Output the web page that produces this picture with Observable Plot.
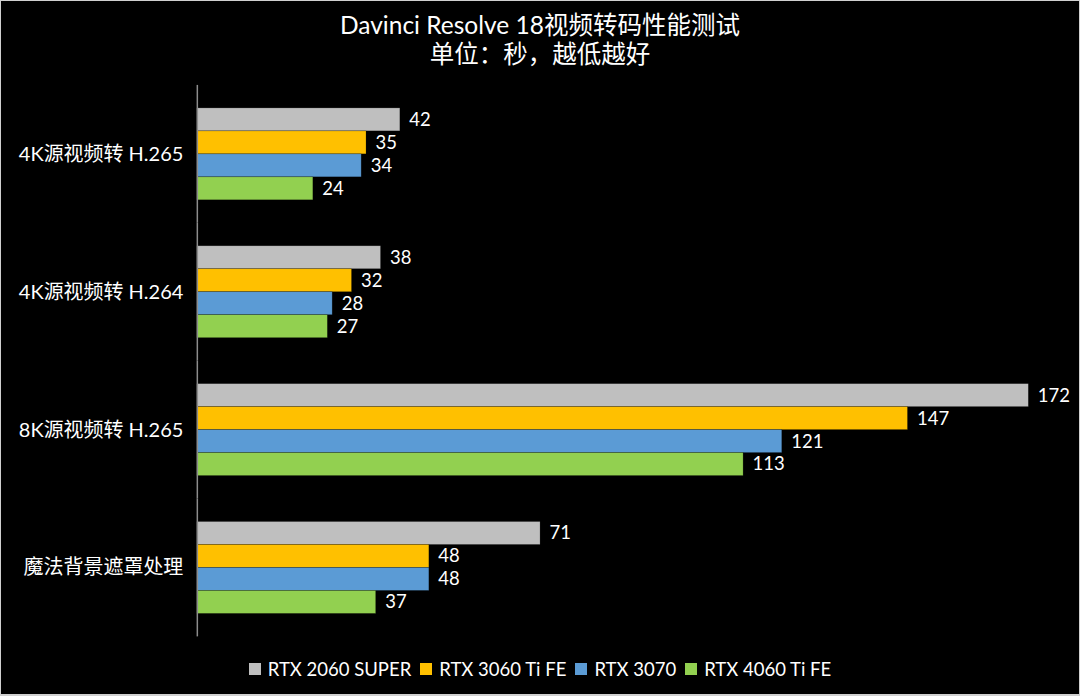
<!DOCTYPE html>
<html>
<head>
<meta charset="utf-8">
<script src="https://cdn.jsdelivr.net/npm/d3@7"></script>
<script src="https://cdn.jsdelivr.net/npm/@observablehq/plot@0.6"></script>
<style>
  html, body { margin: 0; padding: 0; background: #000; }
  #wrap { position: relative; width: 1080px; height: 696px; background: #000; box-sizing: border-box; border: 1px solid #d0d0d0; border-bottom-width: 2px; overflow: hidden; font-family: Lato, "Noto Sans CJK SC", sans-serif; color: #fff; }
  #chart { position: absolute; left: -1px; top: -1px; }
  #title { position: absolute; left: 0; right: 0; top: 9px; text-align: center; font-size: 24.5px; line-height: 29px; color: #fff; }
  #legend { position: absolute; left: 0; right: 0; top: 656px; height: 24px; display: flex; justify-content: center; align-items: center; font-size: 18.5px; color: #fff; }
  .item { display: flex; align-items: center; margin: 0 4.5px; }
  .sw { width: 12px; height: 12px; margin-right: 7px; }
</style>
</head>
<body>
<div id="wrap">
  <div id="chart"></div>
  <div id="title"><div>Davinci Resolve 18视频转码性能测试</div><div>单位：秒，越低越好</div></div>
  <div id="legend"></div>
</div>
<script>
const categories = ["4K源视频转 H.265", "4K源视频转 H.264", "8K源视频转 H.265", "魔法背景遮罩处理"];
const seriesNames = ["RTX 2060 SUPER", "RTX 3060 Ti FE", "RTX 3070", "RTX 4060 Ti FE"];
const rtx2060super = [42, 38, 172, 71];
const rtx3060tife = [35, 32, 147, 48];
const rtx3070 = [34, 28, 121, 48];
const rtx4060tife = [24, 27, 113, 37];
const seriesColors = ["#BFBFBF", "#FFC000", "#5B9BD5", "#92D050"];

const seriesValues = [rtx2060super, rtx3060tife, rtx3070, rtx4060tife];
const data = [];
categories.forEach((c, i) => {
  seriesNames.forEach((s, j) => {
    data.push({category: c, series: s, value: seriesValues[j][i]});
  });
});

const chart = Plot.plot({
  width: 1080,
  height: 696,
  marginTop: 85,
  marginBottom: 59,
  marginLeft: 197,
  marginRight: 12,
  style: {background: "#000", color: "#fff", fontSize: "20px", fontFamily: 'Lato, "Noto Sans CJK SC", sans-serif'},
  x: {domain: [0, 180], axis: null},
  y: {domain: seriesNames, axis: null, paddingInner: 0, paddingOuter: 0.95},
  fy: {domain: categories, padding: 0, axis: "left", label: null, tickSize: 0, tickPadding: 14},
  color: {domain: seriesNames, range: seriesColors},
  marks: [
    Plot.barX(data, {fy: "category", y: "series", x: "value", fill: "series", stroke: "#000", strokeOpacity: 0.35, strokeWidth: 0.6}),
    Plot.text(data, {fy: "category", y: "series", x: "value", text: d => String(d.value), dx: 9, textAnchor: "start", fill: "#fff", fontSize: 18.5}),
    Plot.ruleX([0], {stroke: "#8c8c8c", strokeWidth: 1.5})
  ]
});
document.getElementById("chart").appendChild(chart);

const legend = document.getElementById("legend");
seriesNames.forEach((s, i) => {
  const item = document.createElement("div");
  item.className = "item";
  const sw = document.createElement("div");
  sw.className = "sw";
  sw.style.background = seriesColors[i];
  const t = document.createElement("span");
  t.textContent = s;
  item.appendChild(sw);
  item.appendChild(t);
  legend.appendChild(item);
});
</script>
</body>
</html>
